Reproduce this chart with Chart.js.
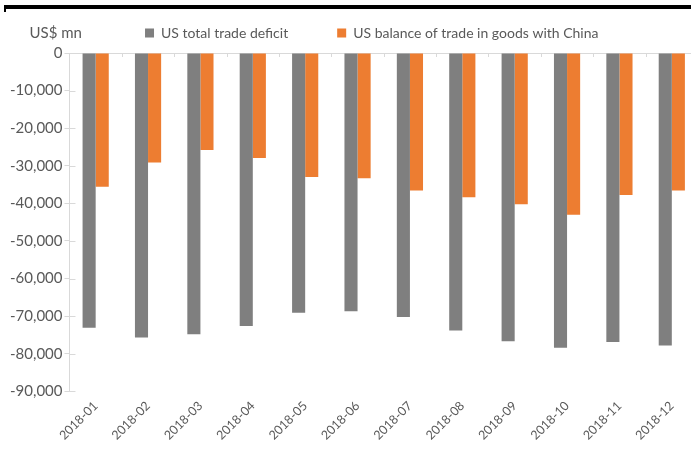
<!DOCTYPE html>
<html lang="en">
<head>
<meta charset="UTF-8">
<title>US trade deficit 2018</title>
<script src="https://cdn.jsdelivr.net/npm/chart.js"></script>
<style>
  body { margin: 0; background: #fff; overflow: hidden; width: 691px; height: 450px; position: relative; }
  #topRule { position: absolute; left: 4px; top: 5px; width: 687px; height: 4px; background: #000; }
  #topTick { position: absolute; left: 4px; top: 9px; width: 2px; height: 3px; background: #000; }
  #wrap { position: absolute; left: 0; top: 0; }
</style>
</head>
<body>
<div id="topRule"></div>
<div id="topTick"></div>
<div id="wrap"><canvas id="myChart" width="698" height="450"></canvas></div>
<script>
const months = ["2018-01", "2018-02", "2018-03", "2018-04", "2018-05", "2018-06",
                "2018-07", "2018-08", "2018-09", "2018-10", "2018-11", "2018-12"];
const totalDeficit = [-73100, -75700, -74800, -72600, -69100, -68700,
                      -70200, -73800, -76700, -78400, -76900, -77800];
const chinaBalance = [-35600, -29100, -25800, -27900, -33000, -33300,
                      -36600, -38400, -40200, -43000, -37800, -36600];
const yTicks = [0, -10000, -20000, -30000, -40000, -50000, -60000, -70000, -80000, -90000];
const unitLabel = "US$ mn";

const textColor = "#595959";
const lineColor = "#d9d9d9";
const fontFamily = "Lato, 'Open Sans', sans-serif";

// nudge the legend a little left and up, like the Excel original
const legendShift = {
  id: "legendShift",
  afterLayout(chart) {
    chart.legend.left -= 12;
    chart.legend.right -= 12;
    chart.legend.top -= 3;
    chart.legend.bottom -= 3;
  }
};

// small tick marks like the Excel original + unit label
const extras = {
  id: "extras",
  afterDraw(chart) {
    const ctx = chart.ctx;
    const x = chart.scales.x;
    const y = chart.scales.y;
    const y0 = y.getPixelForValue(0);
    ctx.save();
    ctx.strokeStyle = lineColor;
    ctx.lineWidth = 1;
    ctx.beginPath();
    for (let i = 0; i <= months.length; i++) {
      const px = Math.round(x.getPixelForValue(i - 0.5)) + 0.5;
      ctx.moveTo(px, y0);
      ctx.lineTo(px, y0 + 4);
    }
    yTicks.forEach(v => {
      const py = Math.round(y.getPixelForValue(v)) + 0.5;
      ctx.moveTo(y.right, py);
      ctx.lineTo(y.right + 6, py);
    });
    ctx.stroke();
    ctx.fillStyle = textColor;
    ctx.font = "15px " + fontFamily;
    ctx.textAlign = "left";
    ctx.textBaseline = "middle";
    ctx.fillText(unitLabel, chart.chartArea.left - 40, chart.chartArea.top - 20);
    ctx.restore();
  }
};

const config = {
  type: "bar",
  data: {
    labels: months,
    datasets: [
      {
        label: "US total trade deficit",
        data: totalDeficit,
        backgroundColor: "#7f7f7f",
        borderWidth: 0
      },
      {
        label: "US balance of trade in goods with China",
        data: chinaBalance,
        backgroundColor: "#ed7d31",
        borderWidth: 0
      }
    ]
  },
  options: {
    responsive: false,
    animation: false,
    layout: { padding: { top: -20, left: 8, right: 0, bottom: 0 } },
    datasets: { bar: { categoryPercentage: 0.5, barPercentage: 1.0 } },
    plugins: {
      legend: {
        position: "top",
        fullSize: false,
        labels: {
          color: textColor,
          font: { family: fontFamily, size: 14 },
          boxWidth: 9,
          boxHeight: 9,
          padding: 49
        }
      },
      tooltip: { enabled: false }
    },
    scales: {
      x: {
        grid: { display: false, drawTicks: false },
        border: { display: false },
        ticks: {
          color: textColor,
          font: { family: fontFamily, size: 12.5 },
          minRotation: 45,
          maxRotation: 45,
          padding: 7
        }
      },
      y: {
        min: -90000,
        max: 0,
        afterBuildTicks: axis => { axis.ticks = yTicks.map(v => ({ value: v })); },
        grid: {
          color: c => (c.tick && c.tick.value === 0 ? lineColor : "transparent"),
          tickColor: lineColor,
          tickLength: 5,
          lineWidth: 1
        },
        border: { display: true, color: lineColor },
        ticks: {
          color: textColor,
          font: { family: fontFamily, size: 15 },
          padding: 2,
          callback: v => v.toLocaleString("en-US")
        }
      }
    }
  },
  plugins: [legendShift, extras]
};

new Chart(document.getElementById("myChart"), config);
</script>
</body>
</html>
